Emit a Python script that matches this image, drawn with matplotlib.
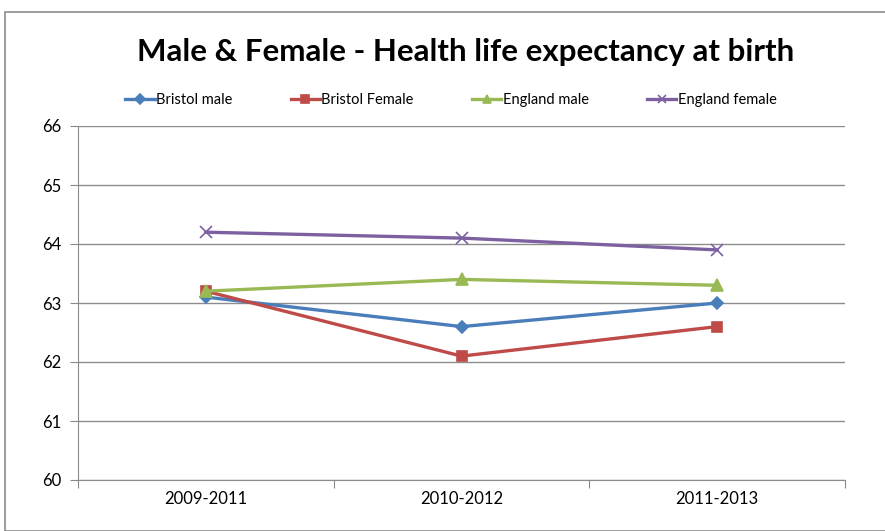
import matplotlib
matplotlib.use("Agg")
import matplotlib.pyplot as plt
from matplotlib.patches import Rectangle

periods = ["2009-2011", "2010-2012", "2011-2013"]
bristol_male = [63.1, 62.6, 63.0]
bristol_female = [63.2, 62.1, 62.6]
england_male = [63.2, 63.4, 63.3]
england_female = [64.2, 64.1, 63.9]
y_ticks = [60, 61, 62, 63, 64, 65, 66]

plt.rcParams['font.family'] = ['Lato', 'DejaVu Sans']

fig = plt.figure(figsize=(8.85, 5.31), dpi=100)
ax = fig.add_axes([78/885, 1-480/531, (845-78)/885, (480-126)/531])

# chart border
fig.patches.append(Rectangle((5/885, 0.0), 1.0, 1-12/531, transform=fig.transFigure,
                             fill=False, edgecolor='#8c8c8c', linewidth=1.2))

x = [0.5, 1.5, 2.5]
series = [
    ("Bristol male", bristol_male, '#4A7EBB', 'D', 6),
    ("Bristol Female", bristol_female, '#BE4B48', 's', 7),
    ("England male", england_male, '#98B954', '^', 8),
    ("England female", england_female, '#7D60A0', 'x', 8),
]
for name, vals, col, mk, ms in series:
    ax.plot(x, vals, color=col, marker=mk, markersize=ms, linewidth=2.4,
            markeredgecolor=col, markerfacecolor=col, markeredgewidth=1.2,
            label=name, clip_on=False)

ax.set_xlim(0, 3)
ax.set_ylim(60, 66)
ax.set_yticks(y_ticks)
ax.set_yticklabels([str(v) for v in y_ticks], fontsize=12)
ax.set_xticks([0, 1, 2, 3])
ax.set_xticklabels([])
ax.set_xticks(x, minor=True)
ax.set_xticklabels(periods, minor=True, fontsize=12)
ax.tick_params(axis='x', which='minor', length=0, pad=8)
ax.tick_params(axis='x', which='major', length=6, color='#888888', direction='out')
ax.tick_params(axis='y', length=6, color='#888888', direction='out', pad=6)
ax.yaxis.grid(True, color='#8c8c8c', linewidth=1)
ax.set_axisbelow(True)
for s in ['top', 'right']:
    ax.spines[s].set_visible(False)
for s in ['left', 'bottom']:
    ax.spines[s].set_color('#8c8c8c')

fig.text(466/885, 1-52/531, "Male & Female - Health life expectancy at birth",
         ha='center', va='center', fontsize=22.5, fontweight='bold')

leg = fig.legend(loc='center', bbox_to_anchor=(451/885, 1-100/531), ncol=4,
                 frameon=False, fontsize=10.5, handlelength=2.0, handletextpad=0.1,
                 columnspacing=4.0, markerscale=0.8)

fig.savefig("out.png", dpi=100)
